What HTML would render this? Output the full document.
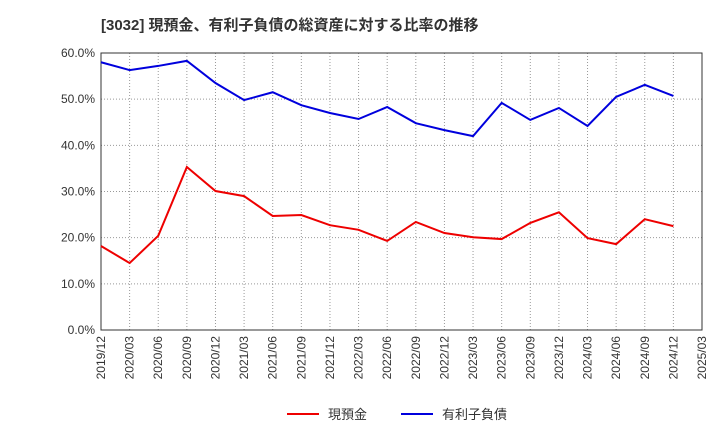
<!DOCTYPE html>
<html><head><meta charset="utf-8"><style>
body{margin:0;background:#fff;font-family:"Liberation Sans","Noto Sans CJK JP",sans-serif;}
svg text{font-family:"Liberation Sans","Noto Sans CJK JP",sans-serif;}
</style></head><body>
<svg id="chart" width="720" height="440">
<text x="101" y="30" font-size="15" font-weight="bold" fill="#333">[3032]  現預金、有利子負債の総資産に対する比率の推移</text>
<g id="grid"></g><g id="axes"></g><g id="series"></g>
<g>
<line x1="287" y1="414" x2="319" y2="414" stroke="#e00" stroke-width="2"/>
<text x="328" y="419" font-size="13" fill="#333">現預金</text>
<line x1="401" y1="414" x2="433" y2="414" stroke="#00d" stroke-width="2"/>
<text x="442" y="419" font-size="13" fill="#333">有利子負債</text>
</g>
</svg>
<script>
const categories=["2019/12","2020/03","2020/06","2020/09","2020/12","2021/03","2021/06","2021/09","2021/12","2022/03","2022/06","2022/09","2022/12","2023/03","2023/06","2023/09","2023/12","2024/03","2024/06","2024/09","2024/12","2025/03"];
const cashValues=[18.2,14.5,20.4,35.3,30.1,29.0,24.7,24.9,22.7,21.7,19.3,23.4,21.0,20.1,19.7,23.2,25.5,19.9,18.6,24.0,22.5];
const debtValues=[58.0,56.3,57.2,58.3,53.5,49.8,51.5,48.7,47.0,45.7,48.3,44.8,43.3,42.0,49.2,45.5,48.1,44.2,50.5,53.1,50.7];
const yTicks=[0,10,20,30,40,50,60];
const X0=101,X1=702,Y0=330,Y1=53;
const xs=i=>X0+i*(X1-X0)/(categories.length-1);
const ys=v=>Y0-v/60*(Y0-Y1);
const NS="http://www.w3.org/2000/svg";
function mk(tag,attrs,parent){const e=document.createElementNS(NS,tag);for(const k in attrs)e.setAttribute(k,attrs[k]);document.getElementById(parent).appendChild(e);return e;}
yTicks.forEach(t=>{
 const l=mk('line',{x1:X0,x2:X1,y1:ys(t),y2:ys(t),stroke:'#999','stroke-dasharray':'1,2'},'grid');
 
 
 const tx=mk('text',{x:X0-6,y:ys(t)+4,'font-size':12,'text-anchor':'end',fill:'#333'},'axes');
 tx.textContent=t.toFixed(1)+'%';
 
 
});
categories.forEach((c,i)=>{
 const l=mk('line',{x1:xs(i),x2:xs(i),y1:Y1,y2:Y0,stroke:'#999','stroke-dasharray':'1,2'},'grid');
 
 
 const tx=mk('text',{x:0,y:0,'font-size':12,'text-anchor':'end',fill:'#333',transform:`translate(${xs(i)+4},${Y0+6}) rotate(-90)`},'axes');
 tx.textContent=c;
 
 
});
const frame=mk('rect',{x:X0,y:Y1,width:X1-X0,height:Y0-Y1,fill:'none',stroke:'#333'},'axes');


const p1=mk('polyline',{points:cashValues.map((v,i)=>xs(i)+','+ys(v)).join(' '),fill:'none',stroke:'#e00','stroke-width':2},'series');


const p2=mk('polyline',{points:debtValues.map((v,i)=>xs(i)+','+ys(v)).join(' '),fill:'none',stroke:'#00d','stroke-width':2},'series');


</script>
</body></html>
